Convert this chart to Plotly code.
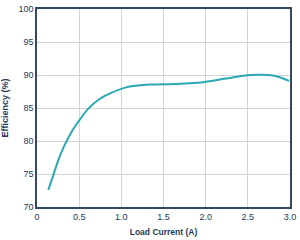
import plotly.graph_objects as go

load_current = [0.134, 0.2, 0.27, 0.343, 0.42, 0.5, 0.6, 0.745, 0.88, 1.0, 1.1, 1.34, 1.65, 1.97, 2.28, 2.52, 2.65, 2.75, 2.87, 2.99]
efficiency = [72.6, 75.1, 77.7, 79.8, 81.6, 83.1, 84.8, 86.4, 87.3, 87.9, 88.25, 88.55, 88.65, 88.9, 89.55, 90.0, 90.05, 90.0, 89.7, 89.1]

x_ticks = [0, 0.5, 1.0, 1.5, 2.0, 2.5, 3.0]
x_labels = ["0", "0.5", "1.0", "1.5", "2.0", "2.5", "3.0"]
y_ticks = [70, 75, 80, 85, 90, 95, 100]

navy = "#1e3a5c"
font = "Liberation Sans, Arial, sans-serif"

fig = go.Figure(go.Scatter(
    x=load_current, y=efficiency, mode="lines",
    line=dict(color="#2aa8b4", width=2, shape="spline", smoothing=0.6),
))

fig.update_layout(
    width=300, height=240,
    margin=dict(l=37, r=10, t=4, b=33),
    paper_bgcolor="white", plot_bgcolor="white",
    showlegend=False,
    font=dict(family=font, color=navy, size=9),
)
fig.update_xaxes(
    range=[0, 3], tickvals=x_ticks, ticktext=x_labels,
    showgrid=True, gridcolor="#d4d4d8", gridwidth=1,
    showline=True, linecolor="#34495e", linewidth=1.5, mirror=True,
    zeroline=False, ticks="",
    tickfont=dict(size=9, family=font, color=navy),
    title=dict(text="<b>Load Current (A)</b>", font=dict(size=8.5, family=font, color=navy), standoff=9),
)
fig.update_yaxes(
    range=[70, 100], tickvals=y_ticks,
    showgrid=True, gridcolor="#d4d4d8", gridwidth=1,
    showline=True, linecolor="#34495e", linewidth=1.5, mirror=True,
    zeroline=False, ticks="",
    tickfont=dict(size=9, family=font, color=navy),
    title=dict(text="<b>Efficiency (%)</b>", font=dict(size=9, family=font, color=navy), standoff=8),
)

fig.write_html("out.html")
